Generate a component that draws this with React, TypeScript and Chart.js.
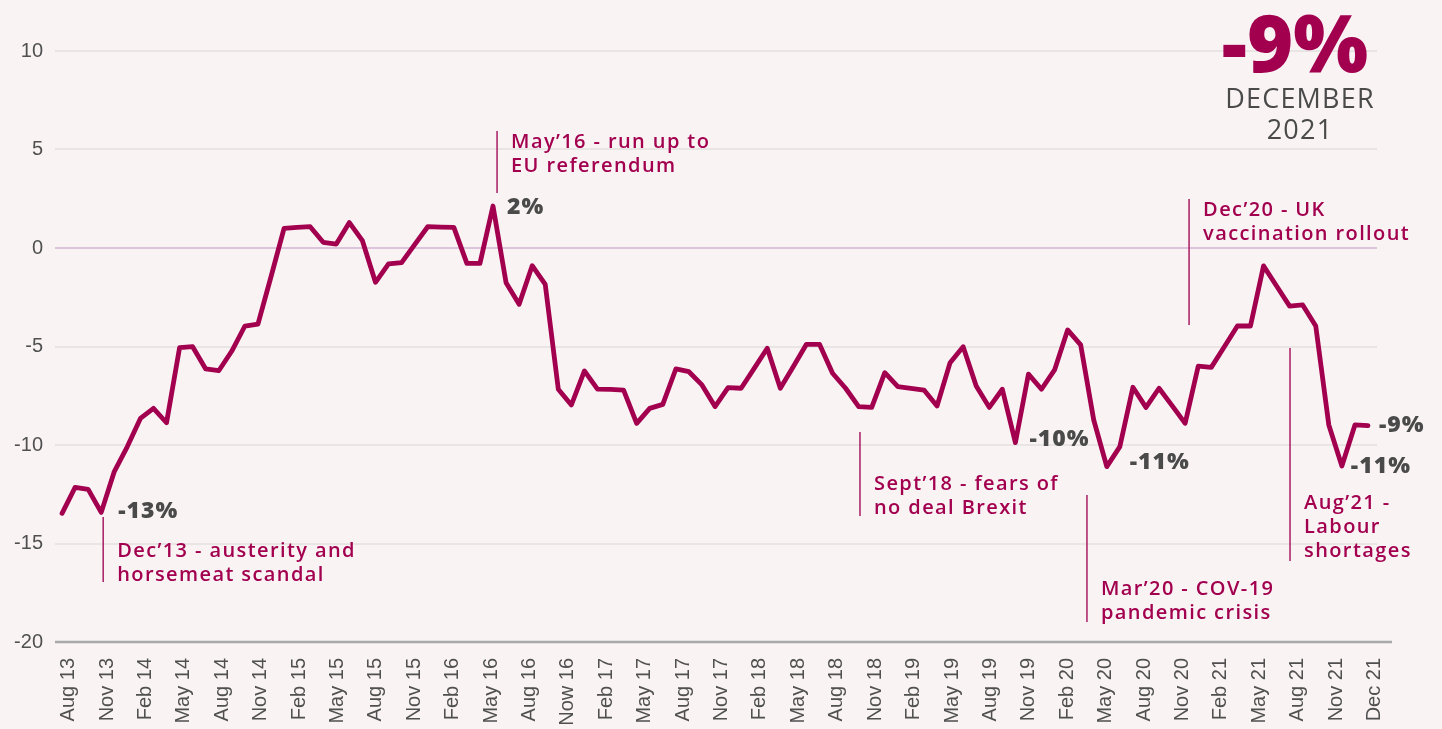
import React, { useEffect, useRef } from 'react';
import { Chart, registerables } from 'chart.js';

Chart.register(...registerables);

const xTickLabels = [
  'Aug 13', 'Nov 13', 'Feb 14', 'May 14', 'Aug 14', 'Nov 14', 'Feb 15', 'May 15', 'Aug 15', 'Nov 15',
  'Feb 16', 'May 16', 'Aug 16', 'Now 16', 'Feb 17', 'May 17', 'Aug 17', 'Nov 17', 'Feb 18', 'May 18',
  'Aug 18', 'Nov 18', 'Feb 19', 'May 19', 'Aug 19', 'Nov 19', 'Feb 20', 'May 20', 'Aug 20', 'Nov 20',
  'Feb 21', 'May 21', 'Aug 21', 'Nov 21', 'Dec 21',
];

// Monthly net balance, Aug 2013 .. Dec 2021 (101 months)
const netBalance = [
  -13.47, -12.15, -12.25, -13.42, -11.35, -10.08, -8.65, -8.14, -8.87, -5.06,
  -5.01, -6.14, -6.23, -5.23, -3.96, -3.86, -1.46, 1.0, 1.05, 1.08,
  0.29, 0.2, 1.29, 0.37, -1.74, -0.81, -0.74, 0.17, 1.08, 1.06,
  1.05, -0.78, -0.78, 2.13, -1.76, -2.86, -0.9, -1.85, -7.17, -7.97,
  -6.24, -7.16, -7.18, -7.21, -8.9, -8.14, -7.94, -6.14, -6.28, -6.95,
  -8.05, -7.09, -7.12, -6.11, -5.09, -7.12, -6.02, -4.89, -4.89, -6.36,
  -7.12, -8.05, -8.09, -6.33, -7.04, -7.12, -7.21, -8.02, -5.82, -5.01,
  -7.0, -8.09, -7.17, -9.88, -6.4, -7.17, -6.19, -4.16, -4.92, -8.73,
  -11.1, -10.08, -7.07, -8.09, -7.12, -8.0, -8.9, -6.0, -6.06, -5.01,
  -3.96, -3.96, -0.91, -1.93, -2.95, -2.89, -3.96, -8.98, -11.07, -8.98,
  -9.02,
];

const yMin = -20;
const yMax = 10;
const yStep = 5;

// Event annotations: month index of connector, connector top/bottom (values), first text line centre (value)
const eventIndex = [3.15, 33.31, 61.1, 78.48, 86.3, 94.03];
const eventTop = [-13.65, 5.94, -9.34, -12.54, 2.49, -5.08];
const eventBottom = [-16.95, 2.79, -13.6, -18.98, -3.91, -15.89];
const eventTextY = [-15.38, 5.38, -11.98, -17.31, 1.93, -12.94];
const eventText = [
  ['Dec\u201913 - austerity and', 'horsemeat scandal'],
  ['May\u201916 - run up to', 'EU referendum'],
  ['Sept\u201918 - fears of', 'no deal Brexit'],
  ['Mar\u201920 - COV-19', 'pandemic crisis'],
  ['Dec\u201920 - UK', 'vaccination rollout'],
  ['Aug\u201921 -', 'Labour', 'shortages'],
];

// Value call-outs: data index and text
const calloutIndex = [3, 33, 73, 80, 100, 98];
const calloutText = ['-13%', '2%', '-10%', '-11%', '-9%', '-11%'];
const calloutDx = [17, 14, 14, 23, 11, 9];
const calloutDy = [-1, 1, -3, -4, 0, 0];

const headlineValue = '-9%';
const headlineSub = ['DECEMBER', '2021'];

const MAGENTA = '#a2004f';
const GREY_TEXT = '#4a4a4a';
const BG = '#f9f3f4';

const overlayPlugin = {
  id: 'overlay',
  beforeDatasetsDraw(chart: any) {
    const { ctx, chartArea } = chart;
    ctx.save();
    ctx.strokeStyle = '#a9a9a9';
    ctx.lineWidth = 2.5;
    ctx.beginPath();
    ctx.moveTo(chartArea.left, chartArea.bottom);
    ctx.lineTo(chartArea.right + 15, chartArea.bottom);
    ctx.stroke();
    ctx.restore();
  },
  afterDatasetsDraw(chart: any) {
    const { ctx } = chart;
    const xs = chart.scales.x;
    const ys = chart.scales.y;
    ctx.save();
    // event annotations
    eventText.forEach((lines, k) => {
      const x = xs.getPixelForValue(eventIndex[k]);
      ctx.strokeStyle = '#a91c63';
      ctx.lineWidth = 1.5;
      ctx.beginPath();
      ctx.moveTo(x, ys.getPixelForValue(eventTop[k]));
      ctx.lineTo(x, ys.getPixelForValue(eventBottom[k]));
      ctx.stroke();
      ctx.fillStyle = MAGENTA;
      ctx.font = '600 20px "Open Sans"';
      ctx.letterSpacing = '1.4px';
      ctx.textAlign = 'left';
      ctx.textBaseline = 'middle';
      const y0 = ys.getPixelForValue(eventTextY[k]);
      lines.forEach((t, j) => ctx.fillText(t, x + 14, y0 + j * 24));
    });
    // value callouts
    ctx.fillStyle = GREY_TEXT;
    ctx.font = '800 23px "Open Sans"';
    ctx.letterSpacing = '1px';
    ctx.textAlign = 'left';
    ctx.textBaseline = 'middle';
    calloutText.forEach((t, k) => {
      const i = calloutIndex[k];
      const x = xs.getPixelForValue(i) + calloutDx[k];
      const y = ys.getPixelForValue(netBalance[i]) + calloutDy[k];
      ctx.fillText(t, x, y);
    });
    // headline
    ctx.fillStyle = MAGENTA;
    ctx.font = '800 79px "Open Sans"';
    ctx.letterSpacing = '0px';
    ctx.textAlign = 'center';
    ctx.textBaseline = 'alphabetic';
    ctx.fillText(headlineValue, 1295, 72);
    ctx.fillStyle = GREY_TEXT;
    ctx.font = '400 27px "Open Sans"';
    ctx.letterSpacing = '1.2px';
    ctx.textBaseline = 'middle';
    ctx.fillText(headlineSub[0], 1300, 100);
    ctx.fillText(headlineSub[1], 1300, 131);
    ctx.restore();
  },
};

export default function App() {
  const canvasRef = useRef<HTMLCanvasElement | null>(null);

  useEffect(() => {
    const canvas = canvasRef.current;
    if (!canvas) return;
    const n = netBalance.length - 1;
    const tickStep = n / (xTickLabels.length - 1);
    const chart = new Chart(canvas, {
      type: 'line',
      data: {
        datasets: [
          {
            label: 'Net balance',
            data: netBalance.map((v, i) => ({ x: i, y: v })),
            borderColor: MAGENTA,
            borderWidth: 4.8,
            pointRadius: 0,
            tension: 0,
            borderJoinStyle: 'round',
            borderCapStyle: 'round',
            fill: false,
          },
        ],
      },
      options: {
        responsive: false,
        animation: false,
        events: [],
        layout: { padding: { top: 51, right: 65, left: 0, bottom: 0 } },
        plugins: {
          legend: { display: false },
          tooltip: { enabled: false },
          title: { display: false },
        },
        scales: {
          x: {
            type: 'linear',
            min: -0.54,
            max: 100.69,
            afterBuildTicks: (scale: any) => {
              scale.ticks = xTickLabels.map((_, k) => ({ value: k * tickStep + 0.5 }));
            },
            afterFit: (scale: any) => {
              scale.height = 87;
            },
            ticks: {
              autoSkip: false,
              minRotation: 90,
              maxRotation: 90,
              padding: 16,
              color: '#505050',
              font: { family: '"Liberation Sans", Arial, sans-serif', size: 20 },
              callback: (_v: any, idx: number) => xTickLabels[idx],
            },
            grid: { display: false, drawTicks: false },
            border: { display: false },
          },
          y: {
            min: yMin,
            max: yMax,
            afterFit: (scale: any) => {
              scale.width = 55;
            },
            ticks: {
              stepSize: yStep,
              padding: 12,
              color: '#505050',
              font: { family: '"Liberation Sans", Arial, sans-serif', size: 20 },
            },
            grid: {
              drawTicks: false,
              lineWidth: 2,
              color: (ctx: any) =>
                ctx.tick && ctx.tick.value === 0
                  ? '#dcc5da'
                  : ctx.tick && ctx.tick.value === yMin
                  ? 'rgba(0,0,0,0)'
                  : '#e9e5e5',
            },
            border: { display: false },
          },
        },
      },
      plugins: [overlayPlugin],
    });
    const fonts: any = (document as any).fonts;
    if (fonts && fonts.load) {
      Promise.all([
        fonts.load('600 20px "Open Sans"'),
        fonts.load('800 23px "Open Sans"'),
        fonts.load('400 27px "Open Sans"'),
      ])
        .then(() => chart.update())
        .catch(() => {});
    }
    return () => chart.destroy();
  }, []);

  return (
    <div
      style={{
        position: 'fixed',
        left: 0,
        top: 0,
        width: 1442,
        height: 729,
        background: BG,
        overflow: 'hidden',
      }}
    >
      <canvas ref={canvasRef} width={1442} height={729} style={{ display: 'block' }} />
    </div>
  );
}
